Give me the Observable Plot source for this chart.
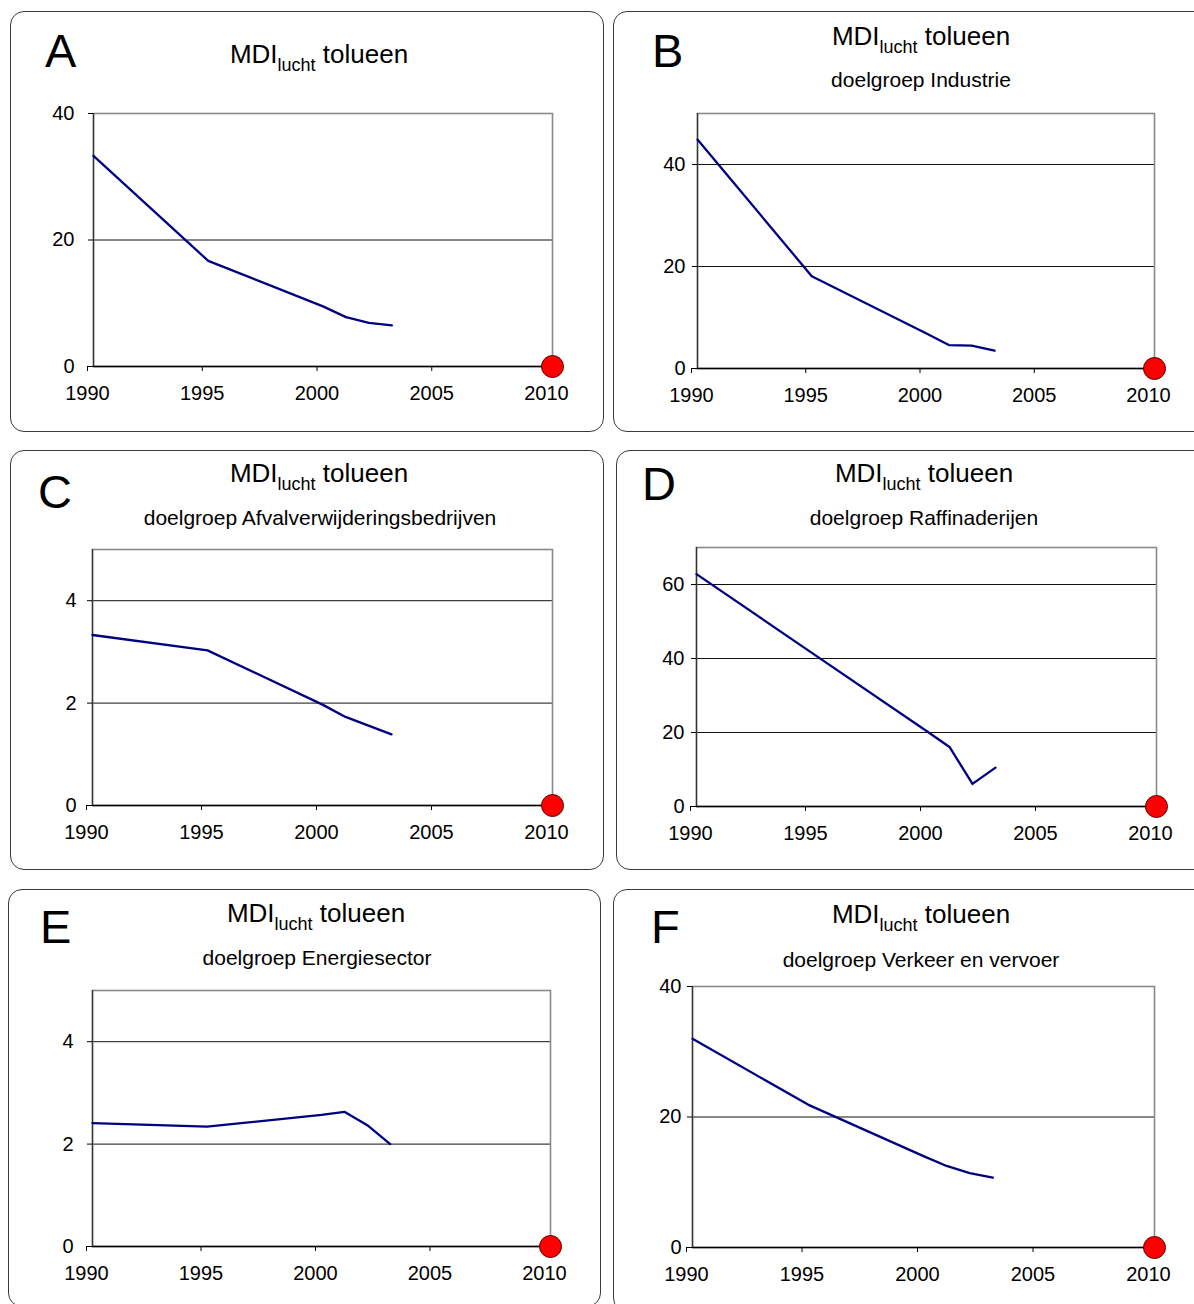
<!DOCTYPE html>
<html>
<head>
<meta charset="utf-8">
<script src="https://cdn.jsdelivr.net/npm/d3@7"></script>
<script src="https://cdn.jsdelivr.net/npm/@observablehq/plot@0.6"></script>
<style>
  html, body { margin: 0; padding: 0; background: #fff; }
  #page { position: relative; width: 1194px; height: 1304px; overflow: hidden; background: #fff;
          font-family: "Liberation Sans", Arial, sans-serif; color: #000; }
  .box { position: absolute; border: 1px solid #3a3a3a; border-radius: 14px; box-sizing: border-box; }
  .letter { position: absolute; font-size: 47px; line-height: 47px; white-space: nowrap; }
  .title { position: absolute; width: 500px; text-align: center; font-size: 26px; line-height: 26px; white-space: nowrap; }
  .title .sub { font-size: 18px; position: relative; top: 8px; }
  .subtitle { position: absolute; width: 500px; text-align: center; font-size: 21px; line-height: 21px; white-space: nowrap; }
  .chart { position: absolute; }
  .chart svg { overflow: visible; }
</style>
</head>
<body>
<div id="page"></div>
<script>
// ---- data ----
const years = [1990, 1995, 2000, 2001, 2002, 2003];
const valuesA = [33.3, 16.7, 9.5, 7.8, 6.9, 6.5];
const valuesB = [44.9, 18.1, 6.9, 4.6, 4.5, 3.5];
const valuesC = [3.33, 3.03, 1.97, 1.73, 1.56, 1.39];
const valuesD = [62.8, 41.6, 20.4, 16.1, 6.1, 10.5];
const valuesE = [2.41, 2.34, 2.57, 2.63, 2.37, 2.0];
const valuesF = [32.0, 21.9, 14.0, 12.5, 11.4, 10.7];
const targetYear = 2010;
const targetValue = 0;
const xTicks = [1990, 1995, 2000, 2005, 2010];
const yTicksA = [0, 20, 40];
const yTicksB = [0, 20, 40];
const yTicksC = [0, 2, 4];
const yTicksD = [0, 20, 40, 60];
const yTicksE = [0, 2, 4];
const yTicksF = [0, 20, 40];
const yMaxA = 40, yMaxB = 50, yMaxC = 5, yMaxD = 70, yMaxE = 5, yMaxF = 40;
const titleMain = "MDI", titleSub = "lucht", titleRest = " tolueen";
const subtitles = {
  A: null,
  B: "doelgroep Industrie",
  C: "doelgroep Afvalverwijderingsbedrijven",
  D: "doelgroep Raffinaderijen",
  E: "doelgroep Energiesector",
  F: "doelgroep Verkeer en vervoer"
};

// ---- layout ----
const panels = [
  {id: "A", values: valuesA, yTicks: yTicksA, yMax: yMaxA, box: [10, 11, 604, 432], plot: [93, 113, 552, 366], letter: [45, 67], title: [319, 63], subtitle: null, yPad: 14},
  {id: "B", values: valuesB, yTicks: yTicksB, yMax: yMaxB, box: [613, 11, 1210, 432], plot: [697, 113, 1154, 368], letter: [652, 67], title: [921, 45], subtitle: [921, 87], yPad: 7},
  {id: "C", values: valuesC, yTicks: yTicksC, yMax: yMaxC, box: [10, 450, 604, 870], plot: [92, 549, 552, 805], letter: [38, 508], title: [319, 482], subtitle: [320, 525], yPad: 11},
  {id: "D", values: valuesD, yTicks: yTicksD, yMax: yMaxD, box: [616, 450, 1210, 870], plot: [696, 547, 1156, 806], letter: [642, 500], title: [924, 482], subtitle: [924, 525], yPad: 7},
  {id: "E", values: valuesE, yTicks: yTicksE, yMax: yMaxE, box: [8, 889, 601, 1307], plot: [92, 990, 550, 1246], letter: [40, 943], title: [316, 922], subtitle: [317, 965], yPad: 14},
  {id: "F", values: valuesF, yTicks: yTicksF, yMax: yMaxF, box: [613, 889, 1210, 1312], plot: [692, 986, 1154, 1247], letter: [651, 943], title: [921, 923], subtitle: [921, 967], yPad: 6}
];

const page = document.getElementById("page");

for (const p of panels) {
  const [bx0, by0, bx1, by1] = p.box;
  const box = document.createElement("div");
  box.className = "box";
  Object.assign(box.style, {left: bx0 + "px", top: by0 + "px", width: (bx1 - bx0) + "px", height: (by1 - by0) + "px"});
  page.appendChild(box);

  const letter = document.createElement("div");
  letter.className = "letter";
  letter.textContent = p.id;
  Object.assign(letter.style, {left: p.letter[0] + "px", top: (p.letter[1] - 0.8465 * 47) + "px"});
  page.appendChild(letter);

  const title = document.createElement("div");
  title.className = "title";
  title.innerHTML = `${titleMain}<span class="sub">${titleSub}</span>${titleRest}`;
  Object.assign(title.style, {left: (p.title[0] - 250) + "px", top: (p.title[1] - 0.8465 * 26) + "px"});
  page.appendChild(title);

  if (p.subtitle) {
    const st = document.createElement("div");
    st.className = "subtitle";
    st.textContent = subtitles[p.id];
    Object.assign(st.style, {left: (p.subtitle[0] - 250) + "px", top: (p.subtitle[1] - 0.8465 * 21) + "px"});
    page.appendChild(st);
  }

  const [px0, py0, px1, py1] = p.plot;
  const svgX = bx0, svgY = py0 - 12;
  const mL = px0 - svgX, mT = 12, mR = 30, mB = 48;
  const W = px1 - svgX + mR, H = py1 - svgY + mB;

  const data = years.map((y, i) => ({year: y, value: p.values[i]}));
  const target = [{year: targetYear, value: targetValue}];
  const grid = p.yTicks.filter(v => v > 0 && v < p.yMax);

  const chart = Plot.plot({
    width: W, height: H,
    marginLeft: mL, marginRight: mR, marginTop: mT, marginBottom: mB,
    x: {domain: [1990, 2010]},
    y: {domain: [0, p.yMax]},
    style: {fontFamily: '"Liberation Sans", Arial, sans-serif', fontSize: "20px", color: "#000", background: "transparent", overflow: "visible"},
    marks: [
      Plot.ruleY(grid, {stroke: "#111", strokeWidth: 1}),
      Plot.frame({stroke: "#8a8a8a", strokeWidth: 1.6}),
      Plot.ruleX([1990], {stroke: "#333", strokeWidth: 1.3}),
      Plot.ruleY([0], {stroke: "#000", strokeWidth: 1.5}),
      Plot.axisY({ticks: p.yTicks, tickFormat: d => String(d), tickSize: 5, tickPadding: p.yPad, fontSize: 20, label: null}),
      Plot.axisX({ticks: xTicks, tickFormat: d => String(d), tickSize: 5, tickPadding: 14, dx: -6, fontSize: 20, label: null}),
      Plot.line(data, {x: "year", y: "value", stroke: "#000080", strokeWidth: 2.3}),
      Plot.dot(target, {x: "year", y: "value", r: 11, fill: "#ff0000", stroke: "#5a0000", strokeWidth: 1})
    ]
  });
  const wrap = document.createElement("div");
  wrap.className = "chart";
  Object.assign(wrap.style, {left: svgX + "px", top: svgY + "px"});
  wrap.appendChild(chart);
  page.appendChild(wrap);
}
</script>
</body>
</html>
